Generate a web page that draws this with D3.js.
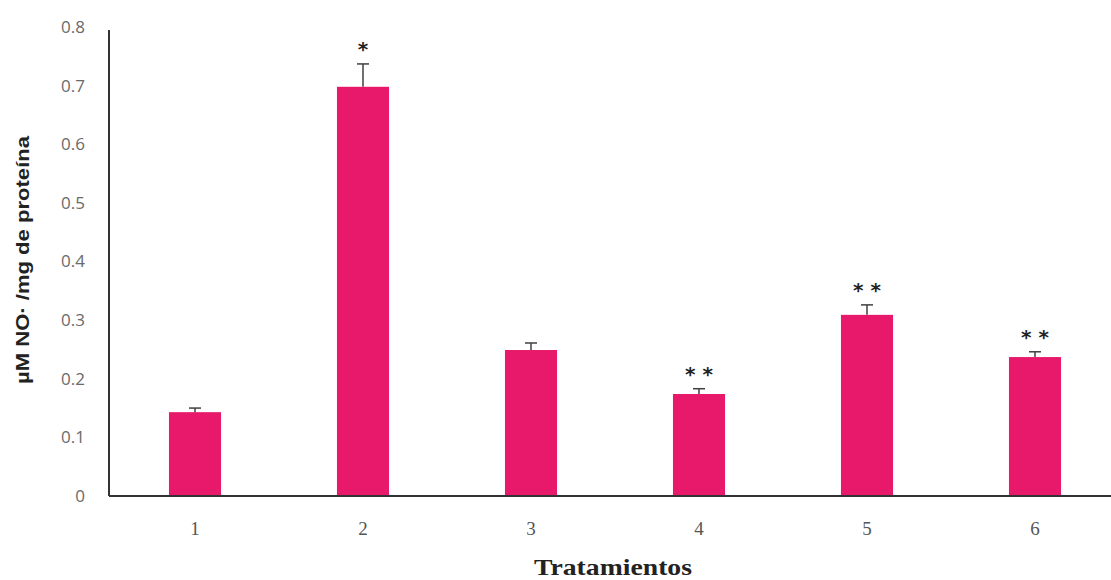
<!DOCTYPE html>
<html>
<head>
<meta charset="utf-8">
<script src="https://cdn.jsdelivr.net/npm/d3@7"></script>
<style>
  html, body { margin: 0; padding: 0; background: #fff; }
  svg { display: block; }
</style>
</head>
<body>
<svg id="chart" width="1111" height="580"></svg>
<script>
// Nitric oxide per mg of protein for each treatment
const treatments = ["1", "2", "3", "4", "5", "6"];
const means = [0.143, 0.698, 0.249, 0.174, 0.309, 0.237];
const errors = [0.007, 0.039, 0.012, 0.009, 0.017, 0.009];
const marks = ["", "*", "", "* *", "* *", "* *"];
const yTicks = [0, 0.1, 0.2, 0.3, 0.4, 0.5, 0.6, 0.7, 0.8];

const svg = d3.select("#chart");
const plotLeft = 109, plotRight = 1119, plotTop = 27, plotBottom = 496;

const x = d3.scaleBand()
  .domain(treatments)
  .range([plotLeft + 2, plotRight])
  .paddingInner(0.69)
  .paddingOuter(0.345);

const y = d3.scaleLinear().domain([0, 0.8]).range([plotBottom, plotTop]);

const barColor = "#e8186a";

// Bars
svg.append("g").selectAll("rect")
  .data(treatments)
  .join("rect")
  .attr("x", d => x(d))
  .attr("width", x.bandwidth())
  .attr("y", (d, i) => y(means[i]))
  .attr("height", (d, i) => y(0) - y(means[i]))
  .attr("fill", barColor);

// Error bars (upper whisker only)
const eb = svg.append("g").attr("stroke", "#404040").attr("stroke-width", 1.5);
treatments.forEach((d, i) => {
  const cx = x(d) + x.bandwidth() / 2;
  eb.append("line")
    .attr("x1", cx).attr("x2", cx)
    .attr("y1", y(means[i])).attr("y2", y(means[i] + errors[i]));
  eb.append("line")
    .attr("x1", cx - 6).attr("x2", cx + 6)
    .attr("y1", y(means[i] + errors[i])).attr("y2", y(means[i] + errors[i]));
});

// Significance marks
svg.append("g").selectAll("text")
  .data(treatments)
  .join("text")
  .attr("x", d => x(d) + x.bandwidth() / 2)
  .attr("y", (d, i) => y(means[i] + errors[i]) - 8)
  .attr("text-anchor", "middle")
  .attr("font-family", "DejaVu Sans, sans-serif")
  .attr("font-weight", "bold")
  .attr("font-size", 20)
  .attr("fill", "#222")
  .text((d, i) => marks[i]);

// Y axis
const yAxis = svg.append("g")
  .attr("transform", `translate(${plotLeft},0)`)
  .call(d3.axisLeft(y).tickValues(yTicks).tickSize(0).tickPadding(24)
    .tickFormat(d => d === 0 ? "0" : d3.format(".1f")(d)));
yAxis.select(".domain").attr("stroke", "#333").attr("stroke-width", 2)
  .attr("d", `M0,${plotTop + 3}V${plotBottom}`);
yAxis.selectAll("text")
  .attr("font-family", "Open Sans, sans-serif")
  .attr("font-size", 17)
  .attr("fill", "#6a6a6a");

// X axis
const xAxis = svg.append("g")
  .attr("transform", `translate(0,${plotBottom})`)
  .call(d3.axisBottom(x).tickSize(0).tickPadding(26));
xAxis.select(".domain").attr("stroke", "#333").attr("stroke-width", 2)
  .attr("d", `M${plotLeft},0H1111`);
xAxis.selectAll("text")
  .attr("font-family", "Liberation Serif, serif")
  .attr("font-size", 19)
  .attr("fill", "#555");

// Axis titles
svg.append("text")
  .attr("x", 613).attr("y", 575)
  .attr("text-anchor", "middle")
  .attr("font-family", "Liberation Serif, serif")
  .attr("font-weight", "bold")
  .attr("font-size", 23)
  .attr("textLength", 158)
  .attr("lengthAdjust", "spacingAndGlyphs")
  .attr("fill", "#222")
  .text("Tratamientos");

svg.append("text")
  .attr("transform", `translate(29,260) rotate(-90)`)
  .attr("text-anchor", "middle")
  .attr("font-family", "Liberation Sans, sans-serif")
  .attr("font-weight", "bold")
  .attr("font-size", 19)
  .attr("textLength", 248)
  .attr("lengthAdjust", "spacingAndGlyphs")
  .attr("fill", "#222")
  .text("µM NO· /mg de proteína");
</script>
</body>
</html>
